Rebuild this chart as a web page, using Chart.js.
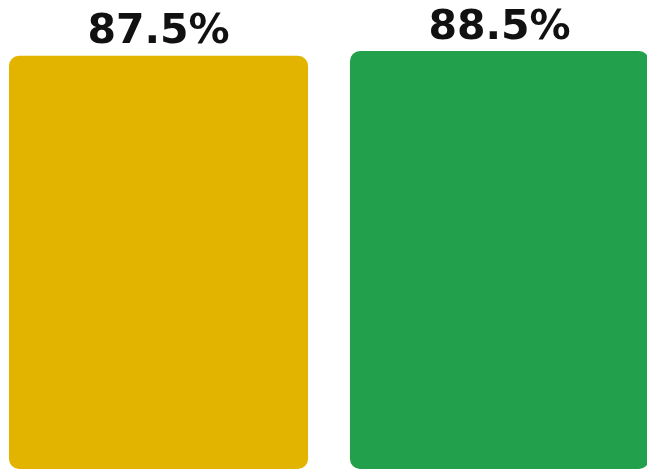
<!DOCTYPE html>
<html>
<head>
<meta charset="utf-8">
<script src="https://cdn.jsdelivr.net/npm/chart.js@4"></script>
<style>
  html, body { margin: 0; padding: 0; background: #fff; overflow: hidden; width: 647px; height: 470px; }
  #wrap { position: absolute; left: -12.5px; top: 0; width: 682px; height: 470px; }
</style>
</head>
<body>
<div id="wrap"><canvas id="myChart"></canvas></div>
<script>
const categories = ['A', 'B'];
const values = [87.5, 88.5];
const barColors = ['#e2b400', '#22a04b'];

// draws the percentage text above each bar
const valueLabels = {
    id: 'valueLabels',
    afterDatasetsDraw(chart) {
        const ctx = chart.ctx;
        const meta = chart.getDatasetMeta(0);
        ctx.save();
        ctx.font = 'bold 41px "DejaVu Sans"';
        ctx.fillStyle = '#111111';
        ctx.textAlign = 'center';
        ctx.textBaseline = 'alphabetic';
        meta.data.forEach((bar, i) => {
            ctx.fillText(values[i].toFixed(1) + '%', bar.x, bar.y - 12.5);
        });
        ctx.restore();
    }
};

const ctx = document.getElementById('myChart').getContext('2d');

const chart = new Chart(ctx, {
    type: 'bar',
    data: {
        labels: categories,
        datasets: [{
            data: values,
            backgroundColor: barColors,
            borderRadius: 10,
            borderSkipped: false,
            barPercentage: 0.877,
            categoryPercentage: 1
        }]
    },
    options: {
        responsive: true,
        maintainAspectRatio: false,
        animation: false,
        layout: { padding: { left: 0, right: 0, top: 0, bottom: 1 } },
        scales: {
            x: { display: false },
            y: { display: false, min: 0, max: 99.3 }
        },
        plugins: {
            legend: { display: false },
            tooltip: { enabled: false }
        }
    },
    plugins: [valueLabels]
});
</script>
</body>
</html>
